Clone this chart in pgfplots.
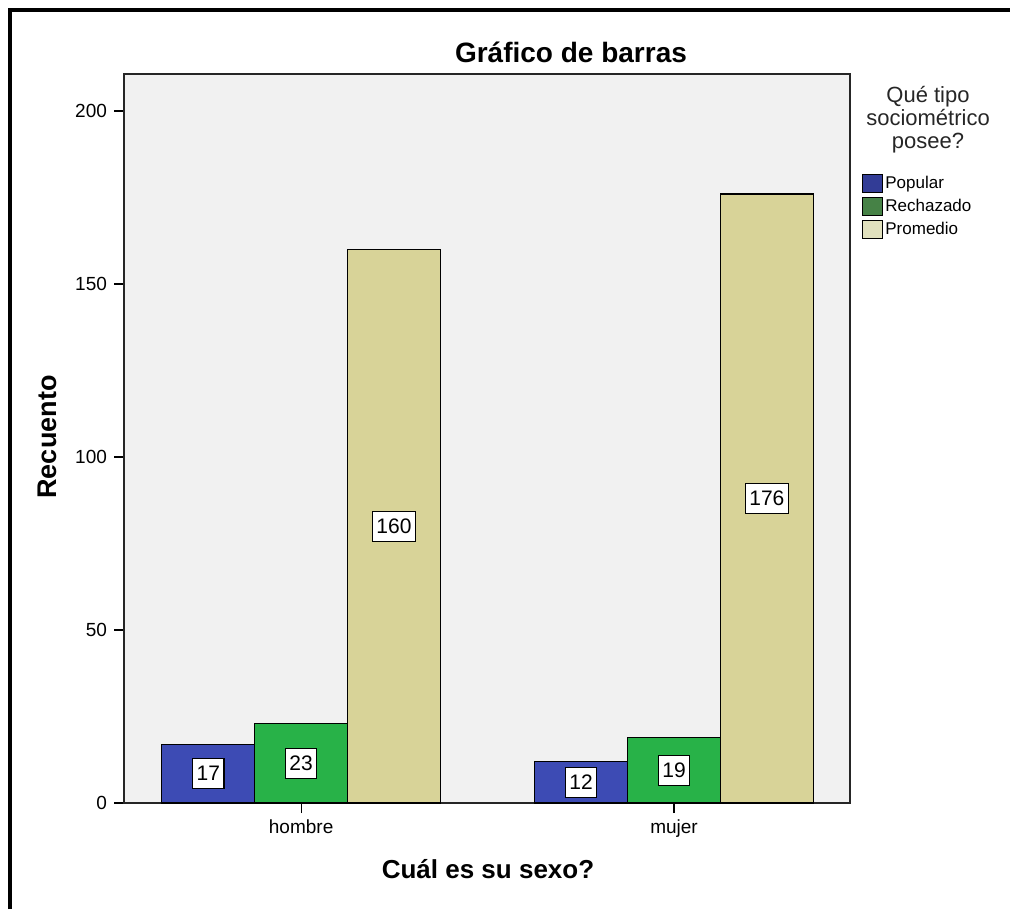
\documentclass[border=0pt]{standalone}
\usepackage{fontspec}
\setmainfont{Liberation Sans}
\usepackage{pgfplots}
\pgfplotsset{compat=1.18}
\definecolor{cpop}{RGB}{61,75,180}
\definecolor{crech}{RGB}{40,178,72}
\definecolor{cprom}{RGB}{216,211,152}
\definecolor{lpop}{RGB}{50,60,150}
\definecolor{lrech}{RGB}{70,130,70}
\definecolor{lprom}{RGB}{225,225,190}
\definecolor{cbg}{RGB}{241,241,241}
\pgfplotsset{
  mybar/.style 2 args={ybar, fill=#1, draw=black, line width=0.6pt,
    legend image code/.code={\draw[fill=#2, draw=black, line width=0.5pt] (1.5pt,-4.5pt) rectangle (11.5pt,4.5pt);}},
}
\begin{document}
\begin{tikzpicture}
\path[use as bounding box] (0,0) rectangle (505pt,-454.5pt);
\draw[line width=2pt, line join=miter] (5pt,-454.5pt) -- (5pt,-5pt) -- (505pt,-5pt);
\begin{axis}[
  at={(62pt,-401.5pt)}, anchor=south west,
  scale only axis, width=363pt, height=364.5pt,
  xmin=-0.475, xmax=1.472, ymin=0, ymax=210.7,
  axis background/.style={fill=cbg},
  xtick={0,1}, xticklabels={hombre,mujer},
  ytick={0,50,...,200},
  tick align=outside, major tick length=5pt,
  tick pos=left,
  axis line style={line width=0.8pt, color=black!85},
  tick style={black, line width=0.6pt},
  ticklabel style={font=\fontsize{9.5}{12}\selectfont},
  /pgf/number format/assume math mode=true,
  bar width=0.249,
  legend style={at={(1.0165,0.8656)}, anchor=north west, draw=none, fill=none,
    font=\fontsize{8.5}{10}\selectfont, row sep=0.5pt, inner sep=0pt,
    nodes={text height=7pt, text depth=2pt, inner sep=1pt},
    cells={anchor=west}},
]
\addplot[mybar={cpop}{lpop}, bar shift=-0.249] coordinates {(0,17) (1,12)};
\addlegendentry{Popular}
\addplot[mybar={crech}{lrech}, bar shift=0] coordinates {(0,23) (1,19)};
\addlegendentry{Rechazado}
\addplot[mybar={cprom}{lprom}, bar shift=0.249] coordinates {(0,160) (1,176)};
\addlegendentry{Promedio}
\addplot[draw=none, forget plot, nodes near coords, point meta=explicit symbolic,
  every node near coord/.style={anchor=center, fill=white, draw=black, line width=0.6pt,
    inner sep=2pt, font=\fontsize{10.5}{12}\selectfont, text height=9pt, text depth=2pt}]
  coordinates {(-0.249,8.5)[17] (0,11.5)[23] (0.249,80)[160] (0.751,6)[12] (1,9.5)[19] (1.249,88)[176]};
\end{axis}
\node[font=\bfseries\fontsize{14}{16}\selectfont] at (285.5pt,-26pt) {Gráfico de barras};
\node[font=\bfseries\fontsize{13.5}{16}\selectfont, rotate=90] at (23.5pt,-218.5pt) {Recuento};
\node[font=\bfseries\fontsize{13}{16}\selectfont] at (244pt,-434.5pt) {Cuál es su sexo?};
\node[font=\fontsize{11}{11.5}\selectfont, align=center, text=black!85] at (464pt,-60pt) {Qué tipo\\sociométrico\\posee?};
\end{tikzpicture}
\end{document}
